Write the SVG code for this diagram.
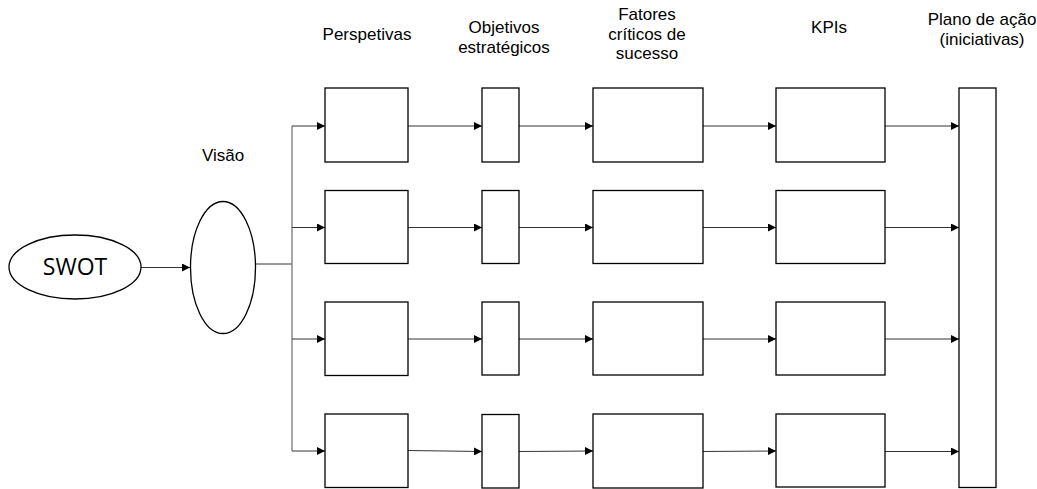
<svg xmlns="http://www.w3.org/2000/svg" width="1037" height="489" viewBox="0 0 1037 489">
<style>
.box{fill:#fff;stroke:#000;stroke-width:1.3}
.lbl{font-family:"Liberation Sans",Arial,sans-serif;font-size:17px;fill:#000;text-anchor:middle}
.cn{fill:none;stroke:#333;stroke-width:1}
.trunk{fill:none;stroke:#888;stroke-width:1.5}
</style>
<defs>
<marker id="ah" viewBox="0 0 10 10" refX="10" refY="5" markerWidth="8" markerHeight="8" markerUnits="userSpaceOnUse" orient="auto">
<path d="M0,0 L10,5 L0,10 z" fill="#000"/>
</marker>
</defs>
<rect width="1037" height="489" fill="#fff"/>
<g id="headers">
<text class="lbl" x="367" y="40">Perspetivas</text>
<text class="lbl" x="504" y="33">Objetivos</text>
<text class="lbl" x="504" y="53">estratégicos</text>
<text class="lbl" x="647" y="20">Fatores</text>
<text class="lbl" x="647" y="40">críticos de</text>
<text class="lbl" x="647" y="59">sucesso</text>
<text class="lbl" x="829" y="33">KPIs</text>
<text class="lbl" x="982" y="25">Plano de ação</text>
<text class="lbl" x="982" y="45">(iniciativas)</text>
<text class="lbl" x="223" y="161">Visão</text>
</g>
<g id="connectors">
<line class="cn" x1="141" y1="267.5" x2="190" y2="267.5" marker-end="url(#ah)"/>
<polyline class="cn" points="256,264 292,264"/>
<line class="trunk" x1="292" y1="126" x2="292" y2="451"/>
<line class="cn" x1="292" y1="126" x2="325" y2="126" marker-end="url(#ah)"/>
<line class="cn" x1="292" y1="227.5" x2="325" y2="227.5" marker-end="url(#ah)"/>
<line class="cn" x1="292" y1="339" x2="325" y2="339" marker-end="url(#ah)"/>
<line class="cn" x1="292" y1="451" x2="325" y2="451" marker-end="url(#ah)"/>
<line class="cn" x1="408" y1="126" x2="482" y2="126" marker-end="url(#ah)"/>
<line class="cn" x1="408" y1="227.5" x2="482" y2="227.5" marker-end="url(#ah)"/>
<line class="cn" x1="408" y1="339" x2="482" y2="339" marker-end="url(#ah)"/>
<line class="cn" x1="408" y1="450.5" x2="482" y2="451.5" marker-end="url(#ah)"/>
<line class="cn" x1="519" y1="126" x2="593" y2="126" marker-end="url(#ah)"/>
<line class="cn" x1="519" y1="227.5" x2="593" y2="227.5" marker-end="url(#ah)"/>
<line class="cn" x1="519" y1="339" x2="593" y2="339" marker-end="url(#ah)"/>
<line class="cn" x1="519" y1="451.5" x2="593" y2="451" marker-end="url(#ah)"/>
<line class="cn" x1="703" y1="126" x2="776" y2="126" marker-end="url(#ah)"/>
<line class="cn" x1="703" y1="227.5" x2="776" y2="227.5" marker-end="url(#ah)"/>
<line class="cn" x1="703" y1="339" x2="776" y2="339" marker-end="url(#ah)"/>
<line class="cn" x1="703" y1="451.5" x2="776" y2="451" marker-end="url(#ah)"/>
<line class="cn" x1="885" y1="126" x2="959" y2="126" marker-end="url(#ah)"/>
<line class="cn" x1="885" y1="227.5" x2="959" y2="227.5" marker-end="url(#ah)"/>
<line class="cn" x1="885" y1="339" x2="959" y2="339" marker-end="url(#ah)"/>
<line class="cn" x1="885" y1="451.5" x2="959" y2="451.5" marker-end="url(#ah)"/>
</g>
<g id="swot">
<ellipse class="box" cx="75" cy="267" rx="66" ry="32"/>
<text x="75" y="275" font-family="'Open Sans','Liberation Sans',sans-serif" font-size="23" text-anchor="middle" fill="#000">SWOT</text>
</g>
<g id="visao">
<ellipse class="box" cx="223" cy="267.5" rx="32.5" ry="66"/>
</g>
<g id="perspetivas">
<rect class="box" x="325" y="88" width="83" height="74"/>
<rect class="box" x="325" y="190.5" width="83" height="73"/>
<rect class="box" x="325" y="302" width="83" height="73.5"/>
<rect class="box" x="325" y="414" width="83" height="73.5"/>
</g>
<g id="objetivos">
<rect class="box" x="482" y="88" width="37" height="74"/>
<rect class="box" x="482" y="190.5" width="37" height="73"/>
<rect class="box" x="482" y="302" width="37" height="73"/>
<rect class="box" x="482" y="414.5" width="37" height="73.5"/>
</g>
<g id="fatores">
<rect class="box" x="593" y="88" width="110" height="74"/>
<rect class="box" x="593" y="190.5" width="110" height="73"/>
<rect class="box" x="593" y="302" width="110" height="73"/>
<rect class="box" x="593" y="414" width="110" height="74"/>
</g>
<g id="kpis">
<rect class="box" x="776" y="88" width="109" height="74"/>
<rect class="box" x="776" y="190.5" width="109" height="73"/>
<rect class="box" x="776" y="302" width="109" height="73"/>
<rect class="box" x="776" y="414" width="109" height="73"/>
</g>
<g id="plano">
<rect class="box" x="959" y="88" width="37" height="399.5"/>
</g>
</svg>
